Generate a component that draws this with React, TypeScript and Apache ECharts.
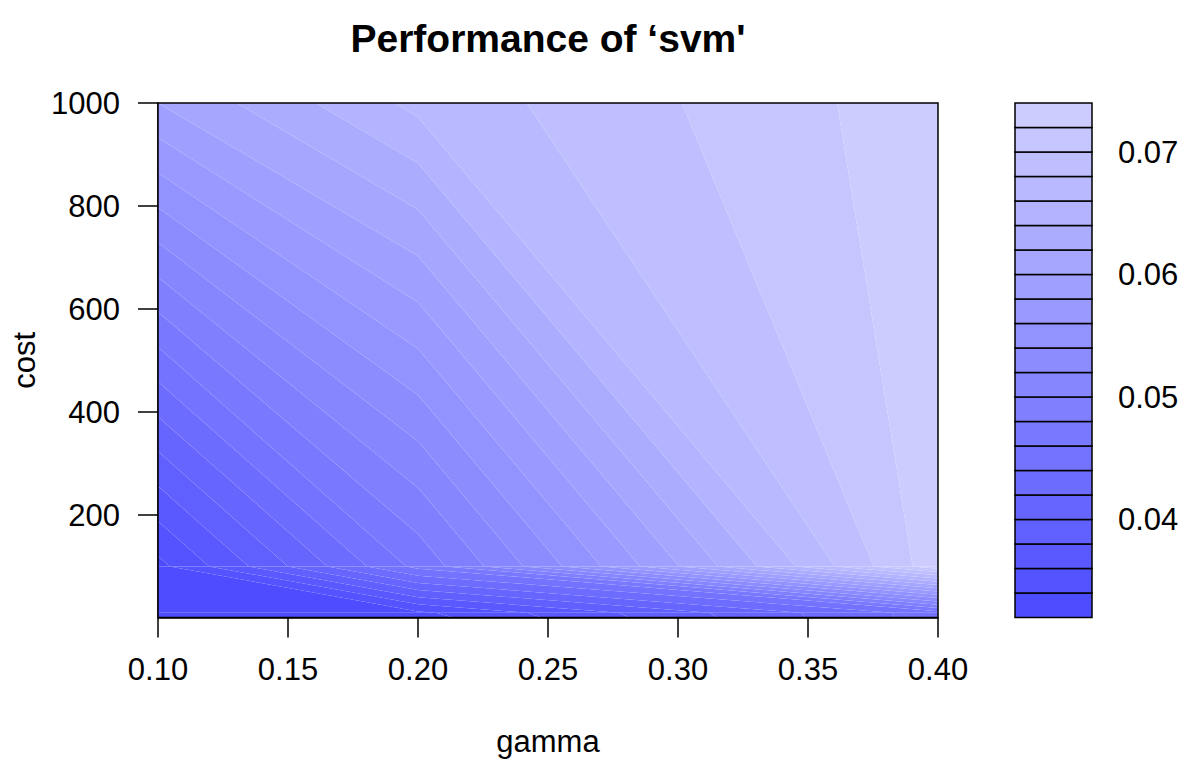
import React, { useEffect, useRef } from "react";
import * as echarts from "echarts";

// grid of the tuning parameters
const gamma = [0.1, 0.2, 0.4];
const cost = [1, 10, 100, 1000];
// classification error, one row per cost value, one column per gamma value
const errCost1 = [0.033, 0.0332, 0.045];
const errCost10 = [0.033, 0.0336, 0.045];
const errCost100 = [0.0334, 0.0466, 0.0733];
const errCost1000 = [0.06, 0.0666, 0.0733];
const errorRows = [errCost1, errCost10, errCost100, errCost1000];

// contour levels
const levels = [
  0.032, 0.034, 0.036, 0.038, 0.04, 0.042, 0.044, 0.046, 0.048, 0.05, 0.052,
  0.054, 0.056, 0.058, 0.06, 0.062, 0.064, 0.066, 0.068, 0.07, 0.072, 0.074,
];
const xTicks = [0.1, 0.15, 0.2, 0.25, 0.3, 0.35, 0.4];
const yTicks = [200, 400, 600, 800, 1000];
const keyTicks = [0.04, 0.05, 0.06, 0.07];

const TITLE = "Performance of \u2018svm'";
const FONT = "'Liberation Sans', Arial, Helvetica, sans-serif";

// hsv palette: h = 2/3, s from 0.7 to 0.2, v = 1
function bandColors(n: number): string[] {
  const out: string[] = [];
  for (let i = 0; i < n; i++) {
    const s = 0.7 + ((0.2 - 0.7) * i) / (n - 1);
    const c = Math.round(255 * (1 - s));
    out.push(`rgb(${c},${c},255)`);
  }
  return out;
}
const colors = bandColors(levels.length - 1);

type P = [number, number, number];
function clip(poly: P[], t: number, above: boolean): P[] {
  const out: P[] = [];
  const n = poly.length;
  for (let i = 0; i < n; i++) {
    const a = poly[i];
    const b = poly[(i + 1) % n];
    const ina = above ? a[2] >= t : a[2] <= t;
    const inb = above ? b[2] >= t : b[2] <= t;
    if (ina) out.push(a);
    if (ina !== inb) {
      const f = (t - a[2]) / (b[2] - a[2]);
      out.push([a[0] + f * (b[0] - a[0]), a[1] + f * (b[1] - a[1]), t]);
    }
  }
  return out;
}

export default function App() {
  const ref = useRef<HTMLDivElement>(null);
  useEffect(() => {
    if (!ref.current) return;
    const chart = echarts.init(ref.current, undefined, { renderer: "svg" });

    const cells: number[][] = [];
    for (let ci = 0; ci < cost.length - 1; ci++)
      for (let gi = 0; gi < gamma.length - 1; gi++)
        cells.push([gamma[gi], cost[ci], gi, ci]);

    const keyData = levels.slice(0, -1).map((l, k) => [0, l, k]);

    const labelStyle = { color: "#000", fontSize: 31, fontFamily: FONT };

    chart.setOption({
      animation: false,
      backgroundColor: "#fff",
      grid: [
        { left: 158, top: 103, width: 780, height: 514.5, outerBoundsMode: "none", containLabel: false },
        { left: 1015, top: 103, width: 77, height: 514.5, outerBoundsMode: "none", containLabel: false },
      ],
      xAxis: [
        {
          gridIndex: 0,
          type: "value",
          min: 0.1,
          max: 0.4,
          name: "gamma",
          nameLocation: "middle",
          nameGap: 108,
          nameTextStyle: labelStyle,
          axisLine: { show: true, lineStyle: { color: "#000", width: 1.5 } },
          axisTick: {
            show: true,
            inside: false,
            length: 20,
            customValues: xTicks,
            lineStyle: { color: "#000", width: 1.5 },
          },
          axisLabel: {
            ...labelStyle,
            margin: 36,
            customValues: xTicks,
            formatter: (v: number) => v.toFixed(2),
          },
          splitLine: { show: false },
        },
        {
          gridIndex: 1,
          type: "value",
          min: 0,
          max: 1,
          show: false,
        },
      ],
      yAxis: [
        {
          gridIndex: 0,
          type: "value",
          min: 1,
          max: 1000,
          name: "cost",
          nameLocation: "middle",
          nameGap: 112,
          nameRotate: 90,
          nameTextStyle: labelStyle,
          axisLine: { show: true, lineStyle: { color: "#000", width: 1.5 } },
          axisTick: {
            show: true,
            length: 20,
            customValues: yTicks,
            lineStyle: { color: "#000", width: 1.5 },
          },
          axisLabel: {
            ...labelStyle,
            margin: 38,
            customValues: yTicks,
            formatter: (v: number) => String(Math.round(v)),
          },
          splitLine: { show: false },
        },
        {
          gridIndex: 1,
          type: "value",
          min: 0.032,
          max: 0.074,
          position: "right",
          axisLine: { show: false },
          axisTick: {
            show: true,
            length: 20,
            customValues: keyTicks,
            lineStyle: { color: "#000", width: 1.5 },
          },
          axisLabel: {
            ...labelStyle,
            margin: 26,
            customValues: keyTicks,
            formatter: (v: number) => v.toFixed(2),
          },
          splitLine: { show: false },
        },
      ],
      graphic: [
        {
          type: "text",
          x: 548,
          y: 38,
          style: {
            text: TITLE,
            fill: "#000",
            font: `bold 39px ${FONT}`,
            textAlign: "center",
            textVerticalAlign: "middle",
          },
        },
      ],
      series: [
        {
          type: "custom",
          xAxisIndex: 0,
          yAxisIndex: 0,
          data: cells,
          encode: { x: 0, y: 1 },
          silent: true,
          renderItem: (params: any, api: any) => {
            const gi = api.value(2);
            const ci = api.value(3);
            const corner = (g: number, c: number): P => {
              const pt = api.coord([gamma[g], cost[c]]);
              return [pt[0], pt[1], errorRows[c][g]];
            };
            const quad: P[] = [
              corner(gi, ci),
              corner(gi + 1, ci),
              corner(gi + 1, ci + 1),
              corner(gi, ci + 1),
            ];
            const children: any[] = [];
            for (let k = 0; k < levels.length - 1; k++) {
              const poly = clip(clip(quad, levels[k], true), levels[k + 1], false);
              if (poly.length >= 3) {
                children.push({
                  type: "polygon",
                  shape: { points: poly.map((p) => [p[0], p[1]]) },
                  style: { fill: colors[k], stroke: null },
                });
              }
            }
            return { type: "group", children };
          },
          z: 2,
        },
        {
          type: "custom",
          xAxisIndex: 0,
          yAxisIndex: 0,
          data: [[gamma[0], cost[0]]],
          encode: { x: 0, y: 1 },
          silent: true,
          renderItem: (params: any) => {
            const cs = params.coordSys;
            return {
              type: "rect",
              shape: { x: cs.x, y: cs.y, width: cs.width, height: cs.height },
              style: { fill: "none", stroke: "#000", lineWidth: 1.5 },
            };
          },
          z: 10,
        },
        {
          type: "custom",
          xAxisIndex: 1,
          yAxisIndex: 1,
          data: keyData,
          encode: { x: 0, y: 1 },
          silent: true,
          renderItem: (params: any, api: any) => {
            const k = api.value(2);
            const p0 = api.coord([0, levels[k]]);
            const p1 = api.coord([1, levels[k + 1]]);
            return {
              type: "rect",
              shape: { x: p0[0], y: p1[1], width: p1[0] - p0[0], height: p0[1] - p1[1] },
              style: { fill: colors[k], stroke: "#000", lineWidth: 1.5 },
            };
          },
          z: 2,
        },
      ],
    });
    return () => chart.dispose();
  }, []);
  return (
    <div
      ref={ref}
      style={{ position: "fixed", left: 0, top: 0, width: 1197, height: 767 }}
    />
  );
}
